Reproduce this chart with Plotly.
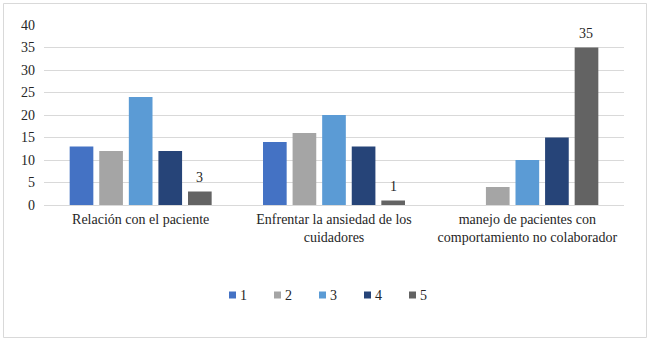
import plotly.graph_objects as go

categories = ["Relación con el paciente",
              "Enfrentar la ansiedad de los<br>cuidadores",
              "manejo de pacientes con<br>comportamiento no colaborador"]
series_names = ["1", "2", "3", "4", "5"]
series_values = [
    [13, 14, None],
    [12, 16, 4],
    [24, 20, 10],
    [12, 13, 15],
    [3, 1, 35],
]
colors = ["#4472C4", "#A5A5A5", "#5B9BD5", "#264478", "#636363"]
y_ticks = [0, 5, 10, 15, 20, 25, 30, 35, 40]
labelled_series = 4  # only series "5" carries data labels

FONT = "Liberation Serif"
TXT = "#262626"
FS = 14
W, H = 650, 341
L, R, T, B = 44, 26, 25, 136
pw, ph = W - L - R, H - T - B
BARGAP, GROUPGAP = 0.235, 0.2

def px_x(p):
    return (p - L) / pw

def px_y(p):
    return (H - B - p) / ph

fig = go.Figure()
for i, (name, vals) in enumerate(zip(series_names, series_values)):
    fig.add_trace(go.Bar(x=categories, y=vals, name=name, showlegend=False,
                         hoverinfo="skip",
                         marker=dict(color=colors[i], line=dict(width=0))))

shapes = [dict(type="rect", xref="paper", yref="paper",
               x0=px_x(3.5), x1=px_x(646.5), y0=px_y(337.5), y1=px_y(3.5),
               line=dict(color="#D9D9D9", width=1), fillcolor="rgba(0,0,0,0)")]
annotations = []

# data labels of series "5", anchored to the bar tops via the data axes
slot = (pw / len(categories)) * (1 - BARGAP) / len(series_names)
offset = (labelled_series - (len(series_names) - 1) / 2) * slot
for cat, v in zip(categories, series_values[labelled_series]):
    if v is None:
        continue
    annotations.append(dict(xref="x", yref="y", x=cat, y=v, xshift=offset, yshift=14.5,
                            xanchor="center", yanchor="middle", showarrow=False,
                            text=str(v), font=dict(family=FONT, size=FS, color=TXT)))

# compact legend, drawn as in the reference
for i, (name, col) in enumerate(zip(series_names, colors)):
    x0 = 229 + 45 * i
    shapes.append(dict(type="rect", xref="paper", yref="paper",
                       x0=px_x(x0), x1=px_x(x0 + 7), y0=px_y(298.5), y1=px_y(291.5),
                       line=dict(width=0), fillcolor=col))
    annotations.append(dict(xref="paper", yref="paper", x=px_x(x0 + 9), y=px_y(295),
                            xanchor="left", yanchor="middle", showarrow=False,
                            text=name, font=dict(family=FONT, size=FS, color=TXT)))

fig.update_layout(
    width=W, height=H,
    margin=dict(l=L, r=R, t=T, b=B),
    paper_bgcolor="white", plot_bgcolor="white",
    barmode="group", bargap=BARGAP, bargroupgap=GROUPGAP,
    font=dict(family=FONT, size=FS, color=TXT),
    showlegend=False,
    xaxis=dict(showgrid=False, ticks="", showline=False, ticklabelstandoff=4,
               tickfont=dict(family=FONT, size=FS, color=TXT)),
    yaxis=dict(range=[0, 40], tickvals=y_ticks, showgrid=True,
               gridcolor="#D9D9D9", gridwidth=1, zeroline=True,
               zerolinecolor="#D9D9D9", zerolinewidth=1, ticks="",
               ticklabelstandoff=8,
               tickfont=dict(family=FONT, size=FS, color=TXT)),
    shapes=shapes,
    annotations=annotations,
)
fig.write_html("out.html", config={"displayModeBar": False},
               post_script="document.body.style.margin='0';document.body.style.padding='0';")
